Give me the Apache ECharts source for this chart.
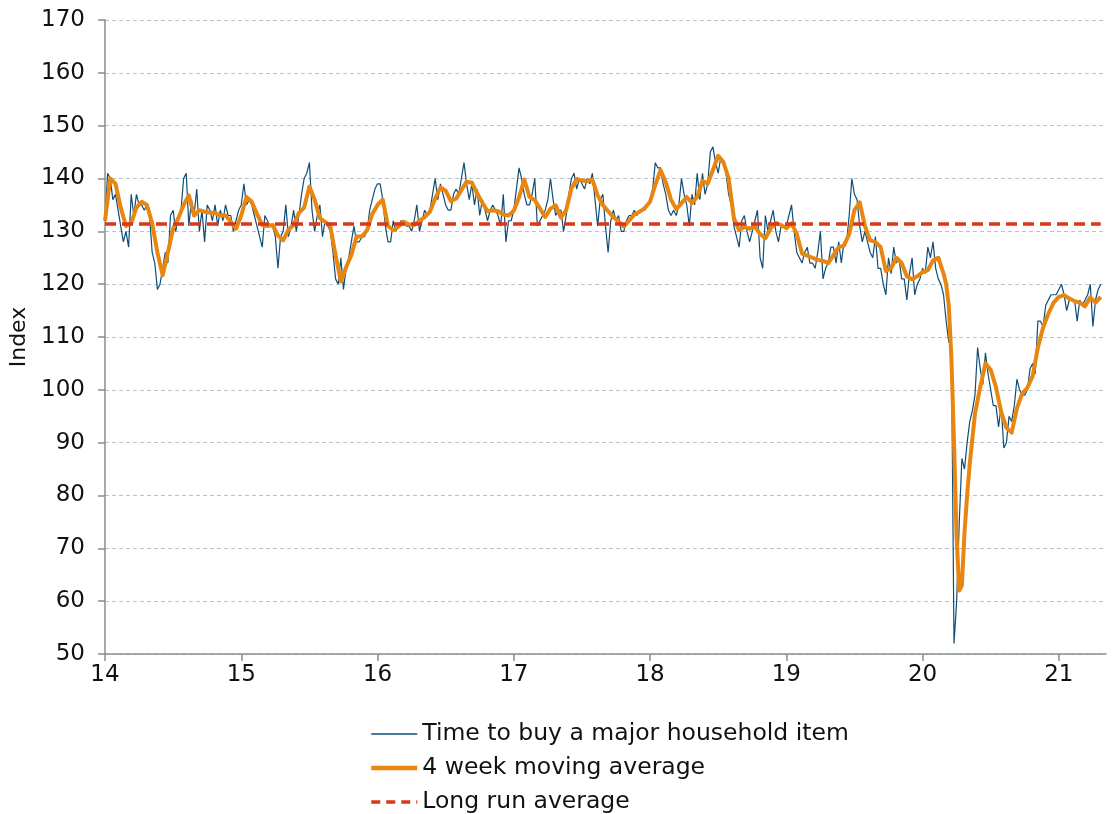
<!DOCTYPE html>
<html>
<head>
<meta charset="utf-8">
<script src="https://cdn.jsdelivr.net/npm/echarts@6/dist/echarts.min.js"></script>
<style>
  html, body { margin: 0; padding: 0; background: #fff; }
  #chart { width: 1113px; height: 814px; }
</style>
</head>
<body>
<div id="chart"></div>
<script>
// weekly index readings, one array per year (week 0 = start of 2014)
var weekly2014 = [132, 141, 140, 136, 137, 134, 131, 128, 130, 127, 137, 133, 137, 135, 135, 134, 135, 133, 126, 124,
  119, 120, 123, 126, 124, 133, 134, 130, 133, 134, 140, 141, 131, 136, 133, 138, 130, 134, 128, 135,
  134, 132, 135, 131, 134, 132, 135, 133, 133, 130, 132, 134]
var weekly2015 = [135, 139, 135, 136, 135, 133, 131, 129, 127, 133, 132, 131, 131, 129, 123, 129, 130, 135, 129, 131,
  134, 130, 133, 137, 140, 141, 143, 134, 130, 133, 135, 129, 132, 131, 130, 126, 121, 120, 125, 119,
  123, 125, 128, 131, 128, 128, 129, 129, 130, 134, 136, 138]
var weekly2016 = [139, 139, 136, 131, 128, 128, 132, 130, 131, 132, 132, 131, 131, 130, 132, 135, 130, 132, 134, 133,
  134, 137, 140, 136, 139, 137, 135, 134, 134, 137, 138, 137, 140, 143, 139, 136, 139, 135, 138, 133,
  136, 134, 132, 134, 135, 134, 133, 131, 137, 128, 132, 132]
var weekly2017 = [134, 138, 142, 140, 137, 135, 135, 137, 140, 131, 132, 133, 134, 136, 140, 136, 133, 134, 134, 130,
  133, 137, 140, 141, 138, 140, 139, 138, 140, 139, 141, 136, 131, 136, 137, 131, 126, 132, 134, 132,
  133, 130, 130, 132, 133, 133, 134, 133, 134, 134, 134, 135]
var weekly2018 = [136, 138, 143, 142, 142, 139, 137, 134, 133, 134, 133, 135, 140, 137, 135, 131, 137, 135, 141, 136,
  141, 137, 139, 145, 146, 143, 141, 144, 143, 141, 137, 135, 131, 129, 127, 132, 133, 130, 128, 130,
  132, 134, 125, 123, 133, 130, 132, 134, 130, 128, 131, 131]
var weekly2019 = [131, 133, 135, 130, 126, 125, 124, 126, 127, 124, 124, 123, 126, 130, 121, 123, 124, 127, 127, 124,
  128, 124, 128, 128, 133, 140, 137, 136, 131, 128, 130, 128, 126, 125, 129, 123, 123, 120, 118, 125,
  122, 127, 124, 125, 121, 121, 117, 122, 125, 118, 120, 121]
var weekly2020 = [123, 122, 127, 125, 128, 123, 121, 120, 118, 113, 109, 109, 52, 60, 75, 87, 85, 90, 94, 96,
  99, 108, 104, 101, 107, 103, 100, 97, 97, 93, 97, 89, 90, 95, 94, 97, 102, 100, 99, 99,
  100, 104, 105, 103, 113, 113, 112, 116, 117, 118, 118, 118]
var weekly2021 = [119, 120, 118, 115, 117, 117, 117, 113, 117, 116, 117, 118, 120, 112, 117, 119, 120]

// 4 week moving average
var maWeeks = [0, 2, 4, 6, 8, 10, 12, 14, 16, 18, 20, 22, 24, 26, 28, 30, 32, 34, 36, 38,
  40, 42, 44, 46, 48, 50, 52, 54, 56, 58, 60, 62, 64, 66, 68, 70, 72, 74, 76, 78,
  80, 82, 84, 86, 88, 90, 92, 94, 96, 98, 100, 102, 104, 106, 108, 110, 112, 114, 116, 118,
  120, 122, 124, 126, 128, 130, 132, 134, 136, 138, 140, 142, 144, 146, 148, 150, 152, 154, 156, 158,
  160, 162, 164, 166, 168, 170, 172, 174, 176, 178, 180, 182, 184, 186, 188, 190, 192, 194, 196, 198,
  200, 202, 204, 206, 208, 210, 212, 214, 216, 218, 220, 222, 224, 226, 228, 230, 232, 234, 236, 238,
  240, 242, 244, 246, 248, 250, 252, 254, 256, 258, 260, 262, 264, 266, 268, 270, 272, 274, 276, 278,
  280, 282, 284, 286, 288, 290, 292, 294, 296, 298, 300, 302, 304, 306, 308, 310, 312, 314, 316, 318,
  320, 321, 322, 323, 324, 325, 326, 327, 328, 329, 330, 332, 334, 336, 338, 340, 342, 344, 346, 348,
  350, 352, 354, 356, 358, 360, 362, 364, 366, 368, 370, 372, 374, 376, 378, 380]
var maValues = [132, 140, 139, 134.5, 131, 131.5, 134.5, 135.6, 135, 131.5, 126, 121.7, 126, 130.5, 132.5, 135, 136.8, 133, 134, 133.7,
  133.5, 133.5, 133, 133, 131.8, 130.5, 133, 136.5, 135.6, 133.3, 131.2, 131, 131.2, 129.2, 128.3, 130.3, 131.2, 133.5, 134.5, 138.5,
  136, 132.5, 131.8, 130.9, 125.5, 120.5, 123.2, 125.5, 129, 129, 130.2, 133.3, 135, 136, 131, 130.2, 130.9, 131.8, 131.3, 131.2,
  132, 132.7, 133.7, 136.2, 138.3, 137.7, 135.7, 136.2, 137.8, 139.4, 139.2, 137.2, 135.4, 133.8, 134, 133.8, 133.2, 133, 133.9, 136.4,
  139.8, 136.5, 135.9, 134.3, 132.7, 134.3, 134.9, 132.6, 134, 138.1, 139.9, 139.6, 139.5, 139.8, 136.8, 135, 133.8, 132.7, 131.8, 130.9,
  132, 133.2, 133.7, 134.4, 135.6, 138.8, 141.6, 139.3, 136, 134.2, 135.3, 136.5, 135.4, 136.5, 139.6, 139, 141.6, 144.3, 143.1, 140,
  132.5, 130.2, 130.8, 130.5, 130.9, 129.5, 128.7, 130.5, 131.6, 131.2, 130.6, 131.5, 129.5, 125.8, 125.4, 125, 124.6, 124.4, 124, 125.5,
  127, 127.3, 129.5, 134, 135.5, 131, 128.3, 128, 127, 122.5, 123, 125, 124, 121.5, 120.9, 121.5, 122.3, 122.6, 124.5, 125,
  122, 120, 116, 106, 90, 72, 62, 63, 73, 80, 86, 95.5, 100.5, 105, 103.8, 100.5, 95.8, 92.8, 91.9, 96.5,
  99.3, 100.4, 102.6, 108, 111.8, 114.4, 116.5, 117.6, 117.9, 117.3, 116.8, 116.5, 115.8, 117.5, 116.5, 117.6]

var longRunAverage = 131.4
var yearLabels = ['14', '15', '16', '17', '18', '19', '20', '21']
var weeksPerYear = 52
var seriesNames = ['Time to buy a major household item', '4 week moving average', 'Long run average']

var weekly = [].concat(weekly2014, weekly2015, weekly2016, weekly2017, weekly2018, weekly2019, weekly2020, weekly2021)
var weeklyData = weekly.map(function (v, i) { return [i, v] })
var maData = maWeeks.map(function (w, i) { return [w, maValues[i]] })
var lastWeek = weekly.length - 1
var avgData = [[0, longRunAverage], [lastWeek, longRunAverage]]
var yearTicks = yearLabels.map(function (y, i) { return i * weeksPerYear })

var blue = '#0f4d78'
var orange = '#e8860f'
var red = '#d9361a'
var font = 'DejaVu Sans, Verdana, sans-serif'
var myChart = echarts.init(document.getElementById('chart'), null, { renderer: 'canvas' })

var option = {
  animation: false,
  backgroundColor: '#ffffff',
  grid: {
    left: 105,
    right: 7,
    top: 20,
    bottom: 160
  },
  legend: {
    orient: 'vertical',
    left: 369,
    top: 722,
    padding: 0,
    itemWidth: 46,
    itemHeight: 14,
    itemGap: 10,
    itemStyle: { opacity: 0 },
    textStyle: {
      fontFamily: font,
      fontSize: 23.5,
      lineHeight: 24,
      color: '#111'
    },
    data: [
      { name: seriesNames[0], lineStyle: { color: blue, width: 1.5 } },
      { name: seriesNames[1], lineStyle: { color: orange, width: 4.5 } },
      { name: seriesNames[2], lineStyle: { color: red, width: 3.5, type: [9, 6] } }
    ]
  },
  xAxis: {
    type: 'value',
    min: 0,
    max: 382,
    splitLine: { show: false },
    axisLine: { lineStyle: { color: '#8c8c8c', width: 1.5 } },
    axisTick: {
      show: true,
      length: 7,
      customValues: yearTicks,
      lineStyle: { color: '#8c8c8c', width: 1.5 }
    },
    axisLabel: {
      customValues: yearTicks,
      margin: 10,
      fontFamily: font,
      fontSize: 23,
      color: '#111',
      formatter: function (v) {
        return yearLabels[Math.round(v / weeksPerYear)]
      }
    }
  },
  yAxis: {
    type: 'value',
    min: 50,
    max: 170,
    interval: 10,
    name: 'Index',
    nameLocation: 'middle',
    nameGap: 73,
    nameTextStyle: {
      fontFamily: font,
      fontSize: 22,
      color: '#111'
    },
    axisLine: { show: true, lineStyle: { color: '#8c8c8c', width: 1.5 } },
    axisTick: { show: true, length: 7, lineStyle: { color: '#8c8c8c', width: 1.5 } },
    axisLabel: {
      margin: 20,
      fontFamily: font,
      fontSize: 23,
      color: '#111'
    },
    splitLine: {
      show: true,
      lineStyle: { color: '#b3c5d3', type: [4, 3], width: 1 }
    }
  },
  series: [{
    name: seriesNames[0],
    type: 'line',
    symbol: 'none',
    lineStyle: { color: blue, width: 1.2 },
    itemStyle: { color: blue },
    data: weeklyData,
    z: 2
  }, {
    name: seriesNames[1],
    type: 'line',
    symbol: 'none',
    lineStyle: { color: orange, width: 4, join: 'round' },
    itemStyle: { color: orange },
    data: maData,
    z: 3
  }, {
    name: seriesNames[2],
    type: 'line',
    symbol: 'none',
    lineStyle: { color: red, width: 3.5, type: [11, 6] },
    itemStyle: { color: red },
    data: avgData,
    z: 4
  }]
}

myChart.setOption(option)
</script>
</body>
</html>
